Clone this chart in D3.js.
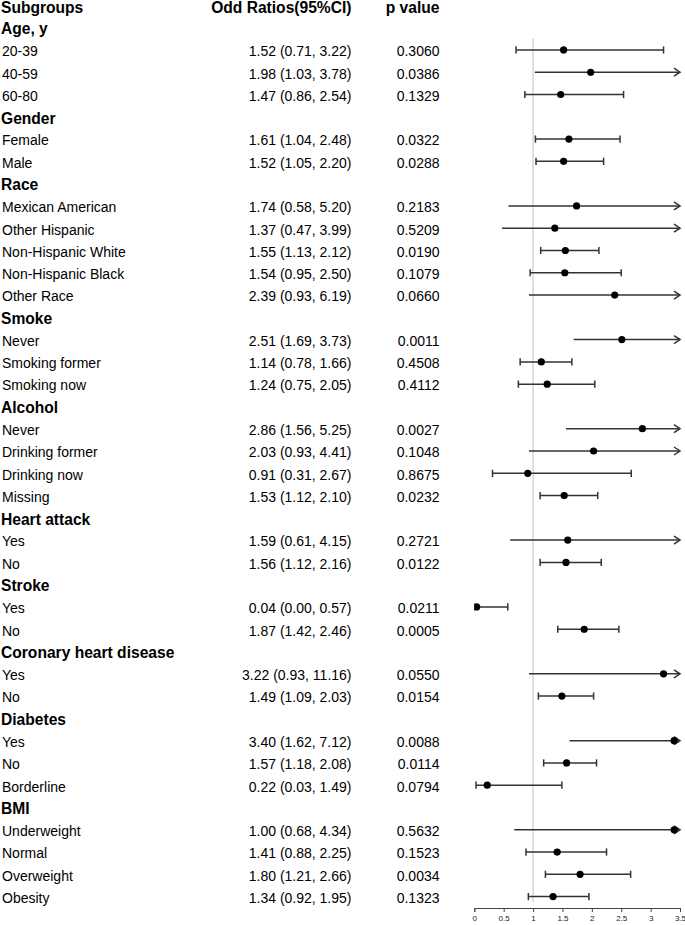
<!DOCTYPE html>
<html>
<head>
<meta charset="utf-8">
<script src="https://cdn.jsdelivr.net/npm/d3@7"></script>
<style>
  html, body { margin: 0; padding: 0; background: #fff; }
  svg { display: block; font-family: "Liberation Sans", Arial, sans-serif; }
</style>
</head>
<body>
<svg id="chart" width="685" height="925"></svg>
<script>
// ---------------- DATA ----------------
const headers = ["Subgroups", "Odd Ratios(95%CI)", "p value"];

const subgroups = [
  "Age, y", "20-39", "40-59", "60-80",
  "Gender", "Female", "Male",
  "Race", "Mexican American", "Other Hispanic", "Non-Hispanic White", "Non-Hispanic Black", "Other Race",
  "Smoke", "Never", "Smoking former", "Smoking now",
  "Alcohol", "Never", "Drinking former", "Drinking now", "Missing",
  "Heart attack", "Yes", "No",
  "Stroke", "Yes", "No",
  "Coronary heart disease", "Yes", "No",
  "Diabetes", "Yes", "No", "Borderline",
  "BMI", "Underweight", "Normal", "Overweight", "Obesity"
];

// null marks a group heading row
const orEst = [
  null, 1.52, 1.98, 1.47,
  null, 1.61, 1.52,
  null, 1.74, 1.37, 1.55, 1.54, 2.39,
  null, 2.51, 1.14, 1.24,
  null, 2.86, 2.03, 0.91, 1.53,
  null, 1.59, 1.56,
  null, 0.04, 1.87,
  null, 3.22, 1.49,
  null, 3.40, 1.57, 0.22,
  null, 1.00, 1.41, 1.80, 1.34
];
const ciLow = [
  null, 0.71, 1.03, 0.86,
  null, 1.04, 1.05,
  null, 0.58, 0.47, 1.13, 0.95, 0.93,
  null, 1.69, 0.78, 0.75,
  null, 1.56, 0.93, 0.31, 1.12,
  null, 0.61, 1.12,
  null, 0.00, 1.42,
  null, 0.93, 1.09,
  null, 1.62, 1.18, 0.03,
  null, 0.68, 0.88, 1.21, 0.92
];
const ciHigh = [
  null, 3.22, 3.78, 2.54,
  null, 2.48, 2.20,
  null, 5.20, 3.99, 2.12, 2.50, 6.19,
  null, 3.73, 1.66, 2.05,
  null, 5.25, 4.41, 2.67, 2.10,
  null, 4.15, 2.16,
  null, 0.57, 2.46,
  null, 11.16, 2.03,
  null, 7.12, 2.08, 1.49,
  null, 4.34, 2.25, 2.66, 1.95
];
const pValues = [
  null, "0.3060", "0.0386", "0.1329",
  null, "0.0322", "0.0288",
  null, "0.2183", "0.5209", "0.0190", "0.1079", "0.0660",
  null, "0.0011", "0.4508", "0.4112",
  null, "0.0027", "0.1048", "0.8675", "0.0232",
  null, "0.2721", "0.0122",
  null, "0.0211", "0.0005",
  null, "0.0550", "0.0154",
  null, "0.0088", "0.0114", "0.0794",
  null, "0.5632", "0.1523", "0.0034", "0.1323"
];
// point positions as drawn in the figure (Underweight dot is drawn near 3.4)
const pointEst = [
  null, 1.52, 1.98, 1.47,
  null, 1.61, 1.52,
  null, 1.74, 1.37, 1.55, 1.54, 2.39,
  null, 2.51, 1.14, 1.24,
  null, 2.86, 2.03, 0.91, 1.53,
  null, 1.59, 1.56,
  null, 0.04, 1.87,
  null, 3.22, 1.49,
  null, 3.40, 1.57, 0.22,
  null, 3.40, 1.41, 1.80, 1.34
];
const xTicks = [0, 0.5, 1, 1.5, 2, 2.5, 3, 3.5];
const refValue = 1;

// ---------------- LAYOUT ----------------
const svg = d3.select("#chart");
const nRows = subgroups.length + 1; // plus header
const y = d3.scaleLinear().domain([0, nRows - 1]).range([5.4, 896.6]);
const x = d3.scaleLinear().domain([0, 3.5]).range([474.3, 680]);
const xMax = x.domain()[1];

const colLabelX = 1;
const colOrRight = 351.5;
const colPRight = 439.5;
const ink = "#000";
const lineCol = "#333";
const boldSize = "15.6px";
const regSize = "14px";

// header
const head = svg.append("g").attr("font-weight", "bold").attr("font-size", boldSize).attr("fill", ink);
const headY = 13;
head.append("text").attr("x", colLabelX).attr("y", headY).text(headers[0]);
head.append("text").attr("x", colOrRight).attr("y", headY).attr("text-anchor", "end").text(headers[1]);
head.append("text").attr("x", colPRight).attr("y", headY).attr("text-anchor", "end").text(headers[2]);

const rows = subgroups.map((s, i) => ({
  label: s, idx: i + 1,
  heading: orEst[i] === null,
  or: orEst[i], lo: ciLow[i], hi: ciHigh[i], p: pValues[i], pt: pointEst[i]
}));

// reference line
svg.append("line")
  .attr("x1", x(refValue)).attr("x2", x(refValue))
  .attr("y1", y(1) + 11).attr("y2", y(nRows - 1) + 5.5)
  .attr("stroke", "#cfcfcf").attr("stroke-width", 1.3);

// text columns
const tg = svg.append("g").attr("fill", ink);
rows.forEach(r => {
  if (r.heading) {
    tg.append("text").attr("x", colLabelX).attr("y", y(r.idx)).attr("dy", "0.43em")
      .attr("font-weight", "bold").attr("font-size", boldSize).text(r.label);
  } else {
    tg.append("text").attr("x", colLabelX + 1).attr("y", y(r.idx)).attr("dy", "0.45em")
      .attr("font-size", regSize).text(r.label);
    tg.append("text").attr("x", colOrRight).attr("y", y(r.idx)).attr("dy", "0.45em")
      .attr("text-anchor", "end").attr("font-size", regSize)
      .text(`${r.or.toFixed(2)} (${r.lo.toFixed(2)}, ${r.hi.toFixed(2)})`);
    tg.append("text").attr("x", colPRight).attr("y", y(r.idx)).attr("dy", "0.45em")
      .attr("text-anchor", "end").attr("font-size", regSize).text(r.p);
  }
});

// clip for plot marks
svg.append("clipPath").attr("id", "plotclip").append("rect")
  .attr("x", x(0)).attr("y", 0).attr("width", x(xMax) - x(0) + 2).attr("height", 925);

const pg = svg.append("g").attr("clip-path", "url(#plotclip)");
const capH = 3.6, arrW = 6, arrH = 4;
rows.filter(r => !r.heading).forEach(r => {
  const yy = y(r.idx);
  const over = r.hi > xMax;
  const x1 = x(r.lo), x2 = x(Math.min(r.hi, xMax));
  pg.append("line").attr("x1", x1).attr("x2", x2).attr("y1", yy).attr("y2", yy)
    .attr("stroke", lineCol).attr("stroke-width", 1.5);
  if (over) {
    pg.append("path")
      .attr("d", `M${x2 - arrW},${yy - arrH}L${x2},${yy}L${x2 - arrW},${yy + arrH}`)
      .attr("fill", "none").attr("stroke", lineCol).attr("stroke-width", 1.5);
  } else {
    [x1, x2].forEach(cx => {
      pg.append("line").attr("x1", cx).attr("x2", cx).attr("y1", yy - capH).attr("y2", yy + capH)
        .attr("stroke", lineCol).attr("stroke-width", 1.5);
    });
  }
  pg.append("circle").attr("cx", x(r.pt)).attr("cy", yy).attr("r", 3.6).attr("fill", ink);
});

// axis
const axis = d3.axisBottom(x).tickValues(xTicks).tickSize(4).tickPadding(3)
  .tickFormat(d => String(d));
const ag = svg.append("g").attr("transform", "translate(0,908)").call(axis);
ag.select(".domain").attr("stroke", "#444").attr("stroke-width", 1);
ag.selectAll(".tick line").attr("stroke", "#444");
ag.selectAll(".tick text").attr("font-size", "8px").attr("fill", "#222")
  .attr("font-family", "'Liberation Sans', Arial, sans-serif");
</script>
</body>
</html>
